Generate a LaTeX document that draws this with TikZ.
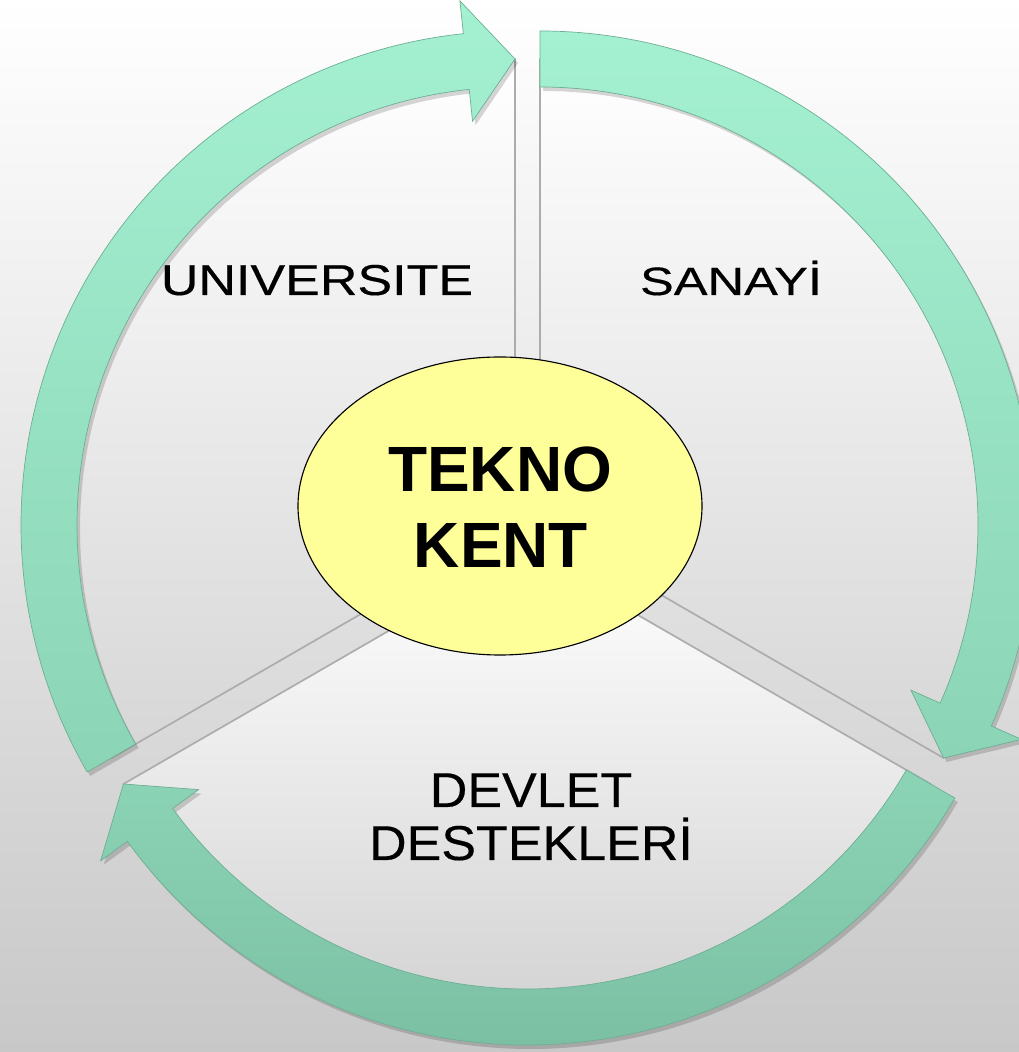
\documentclass[tikz,border=0pt]{standalone}
\usepackage{fontspec}
\setmainfont{Liberation Sans}
\newfontfamily\lblfont[FakeBold=0.35]{Liberation Sans}
\usetikzlibrary{calc}
\definecolor{bgbot}{RGB}{200,200,200}
\definecolor{mintA}{RGB}{164,241,210}
\definecolor{mintB}{RGB}{140,212,182}
\definecolor{mintC}{RGB}{124,192,164}
\definecolor{mintEdge}{RGB}{110,175,148}
\definecolor{secbot}{RGB}{214,214,214}
\definecolor{secbotB}{RGB}{204,204,204}
\definecolor{edgegray}{RGB}{172,172,172}
\definecolor{ellfill}{RGB}{255,255,153}
% arrow path: #1 tail angle, #2 head-base angle, #3 tip angle
\newcommand\cycarrowpath[3]{(#1:494) arc[start angle=#1, end angle=#2, radius=494] -- (#2:527) -- (#3:466) -- (#2:406) -- (#2:438) arc[start angle=#2, end angle=#1, radius=438] -- cycle}
\newcommand\cycsector[2]{(0,0) -- (#1:466) arc[start angle=#1, end angle=#2, radius=466] -- cycle}
\tikzset{
  sectorbox/.style={top color=white, bottom color=secbot, draw=edgegray, line width=1.2pt, line join=round},
  arrowshadow/.style={fill=black, opacity=0.16},
  arrowbody/.style={draw=mintEdge, line width=0.5pt, line join=miter},
  lbl/.style={inner sep=0pt, anchor=base, text=black},
}
\begin{document}
\begin{tikzpicture}[x=0.025cm, y=0.025cm]
\useasboundingbox (0,0) rectangle (1019,1052);
\shade[top color=white, bottom color=bgbot] (0,0) rectangle (1019,1052);
\coordinate (V1) at (515,527);
\coordinate (V2) at (540,527);
\coordinate (V3) at (527,501);
\coordinate (E) at (500,546);
% sectors
\begin{scope}[shift={(V1)}]
  \path[sectorbox] \cycsector{90}{210};
\end{scope}
\begin{scope}[shift={(V2)}]
  \path[sectorbox] \cycsector{-30}{90};
\end{scope}
\begin{scope}[shift={(V3)}]
  \path[sectorbox, bottom color=secbotB] \cycsector{-150}{-30};
\end{scope}
% arrows
\begin{scope}[shift={(V1)}]
  \path[arrowshadow, shift={(3,-4)}] \cycarrowpath{210}{96}{90};
  \path[arrowbody, top color=mintA, bottom color=mintB] \cycarrowpath{210}{96}{90};
\end{scope}
\begin{scope}[shift={(V2)}]
  \path[arrowshadow, shift={(3,-4)}] \cycarrowpath{90}{-24}{-30};
  \path[arrowbody, top color=mintA, bottom color=mintB] \cycarrowpath{90}{-24}{-30};
\end{scope}
\begin{scope}[shift={(V3)}]
  \path[arrowshadow, shift={(3,-4)}] \cycarrowpath{-30}{-144}{-150};
  \path[arrowbody, top color=mintB, bottom color=mintC] \cycarrowpath{-30}{-144}{-150};
\end{scope}
% centre ellipse
\draw[fill=ellfill, draw=black, line width=0.8pt] (E) ellipse[x radius=202, y radius=149];
% labels
\node[lbl, font=\lblfont\fontsize{37pt}{40pt}\selectfont] (uni) at (317,757) {\scalebox{1}[0.83]{UNIVERSITE}};
\node[lbl, font=\lblfont\fontsize{36pt}{40pt}\selectfont] (san) at (731,757) {\scalebox{1}[0.78]{SANAYİ}};
\node[lbl, font=\lblfont\fontsize{37pt}{40pt}\selectfont] (dev1) at (531,245) {\scalebox{1}[0.94]{DEVLET}};
\node[lbl, font=\lblfont\fontsize{37pt}{40pt}\selectfont] (dev2) at (531,192) {\scalebox{1}[0.94]{DESTEKLERİ}};
\node[lbl, font=\fontsize{45.5pt}{50pt}\selectfont\bfseries] (tk1) at (500,560) {TEKNO};
\node[lbl, font=\fontsize{45.5pt}{50pt}\selectfont\bfseries] (tk2) at (501,484) {KENT};
\end{tikzpicture}
\end{document}
